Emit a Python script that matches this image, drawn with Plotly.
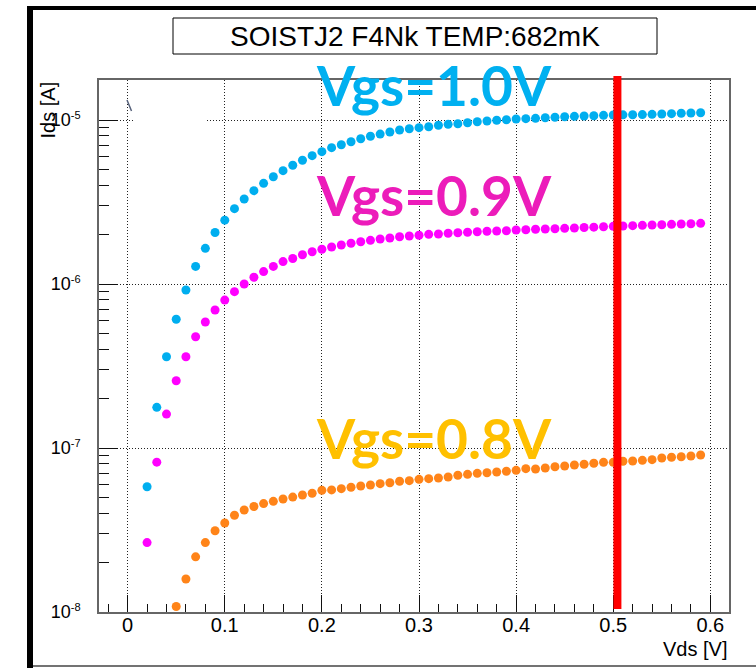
import plotly.graph_objects as go

# ---------------- data ----------------
vds_a = [0.02, 0.03, 0.04, 0.05, 0.06, 0.07, 0.08, 0.09, 0.10, 0.11, 0.12, 0.13,
         0.14, 0.15, 0.16, 0.17, 0.18, 0.19, 0.20, 0.21, 0.22, 0.23, 0.24, 0.25,
         0.26, 0.27, 0.28, 0.29, 0.30, 0.31, 0.32, 0.33, 0.34, 0.35, 0.36, 0.37,
         0.38, 0.39, 0.40, 0.41, 0.42, 0.43, 0.44, 0.45, 0.46, 0.47, 0.48, 0.49,
         0.50, 0.51, 0.52, 0.53, 0.54, 0.55, 0.56, 0.57, 0.58, 0.59]

ids_vgs10 = [5.8e-8, 1.77e-7, 3.6e-7, 6.1e-7, 9.2e-7, 1.28e-6, 1.65e-6, 2.06e-6,
             2.45e-6, 2.88e-6, 3.30e-6, 3.71e-6, 4.11e-6, 4.51e-6, 4.91e-6, 5.30e-6,
             5.68e-6, 6.06e-6, 6.41e-6, 6.78e-6, 7.07e-6, 7.37e-6, 7.69e-6, 7.96e-6,
             8.21e-6, 8.45e-6, 8.69e-6, 8.85e-6, 8.98e-6, 9.10e-6, 9.29e-6, 9.41e-6,
             9.49e-6, 9.63e-6, 9.76e-6, 9.86e-6, 9.96e-6, 1.004e-5, 1.014e-5, 1.019e-5,
             1.024e-5, 1.033e-5, 1.039e-5, 1.047e-5, 1.053e-5, 1.058e-5, 1.062e-5,
             1.068e-5, 1.073e-5, 1.075e-5, 1.076e-5, 1.079e-5, 1.083e-5, 1.088e-5,
             1.093e-5, 1.099e-5, 1.103e-5, 1.108e-5]

ids_vgs09 = [2.65e-8, 8.2e-8, 1.61e-7, 2.57e-7, 3.6e-7, 4.77e-7, 5.87e-7, 6.94e-7,
             7.98e-7, 8.98e-7, 1.0e-6, 1.1e-6, 1.19e-6, 1.28e-6, 1.37e-6, 1.43e-6,
             1.509e-6, 1.574e-6, 1.628e-6, 1.681e-6, 1.729e-6, 1.771e-6, 1.811e-6,
             1.847e-6, 1.881e-6, 1.908e-6, 1.943e-6, 1.962e-6, 1.982e-6, 2.009e-6,
             2.018e-6, 2.038e-6, 2.055e-6, 2.067e-6, 2.084e-6, 2.096e-6, 2.105e-6,
             2.113e-6, 2.134e-6, 2.143e-6, 2.156e-6, 2.165e-6, 2.174e-6, 2.186e-6,
             2.196e-6, 2.210e-6, 2.222e-6, 2.236e-6, 2.248e-6, 2.258e-6, 2.268e-6,
             2.280e-6, 2.290e-6, 2.299e-6, 2.312e-6, 2.322e-6, 2.332e-6, 2.345e-6]

vds_b = [0.05, 0.06, 0.07, 0.08, 0.09, 0.10, 0.11, 0.12, 0.13, 0.14, 0.15, 0.16,
         0.17, 0.18, 0.19, 0.20, 0.21, 0.22, 0.23, 0.24, 0.25, 0.26, 0.27, 0.28,
         0.29, 0.30, 0.31, 0.32, 0.33, 0.34, 0.35, 0.36, 0.37, 0.38, 0.39, 0.40,
         0.41, 0.42, 0.43, 0.44, 0.45, 0.46, 0.47, 0.48, 0.49, 0.50, 0.51, 0.52,
         0.53, 0.54, 0.55, 0.56, 0.57, 0.58, 0.59]

ids_vgs08 = [1.08e-8, 1.59e-8, 2.17e-8, 2.65e-8, 3.13e-8, 3.49e-8, 3.89e-8, 4.19e-8,
             4.40e-8, 4.58e-8, 4.73e-8, 4.89e-8, 5.02e-8, 5.17e-8, 5.30e-8, 5.52e-8,
             5.55e-8, 5.65e-8, 5.76e-8, 5.87e-8, 5.95e-8, 6.06e-8, 6.14e-8, 6.27e-8,
             6.32e-8, 6.44e-8, 6.50e-8, 6.56e-8, 6.66e-8, 6.82e-8, 6.91e-8, 7.01e-8,
             7.07e-8, 7.14e-8, 7.21e-8, 7.31e-8, 7.48e-8, 7.45e-8, 7.55e-8, 7.69e-8,
             7.77e-8, 7.88e-8, 7.96e-8, 8.07e-8, 8.18e-8, 8.18e-8, 8.30e-8, 8.33e-8,
             8.41e-8, 8.49e-8, 8.69e-8, 8.78e-8, 8.85e-8, 8.94e-8, 9.07e-8]

y_major = [1e-8, 1e-7, 1e-6, 1e-5]
y_major_text = ["10<sup><span style='font-size:11px'>-8</span></sup>",
                "10<sup><span style='font-size:11px'>-7</span></sup>",
                "10<sup><span style='font-size:11px'>-6</span></sup>",
                "10<sup><span style='font-size:11px'>-5</span></sup>"]
y_minor = [m * d for d in (1e-8, 1e-7, 1e-6) for m in range(2, 10)]
x_major = [0, 0.1, 0.2, 0.3, 0.4, 0.5, 0.6]
x_major_text = ["0", "0.1", "0.2", "0.3", "0.4", "0.5", "0.6"]

title_text = "SOISTJ2 F4Nk TEMP:682mK"
labels = ["Vgs=1.0V", "Vgs=0.9V", "Vgs=0.8V"]
vline_vds = 0.5043

# ---------------- layout geometry ----------------
W, H = 756, 668
L, T, R, B = 99, 80, 27, 56
PW, PH = W - L - R, H - T - B


def px(x):
    return (x - L) / PW


def py(y):
    return (T + PH - y) / PH


BLUE = "#00AEEF"
MAG = "#FF00FF"
ORA = "#FF8419"
FONT = "Liberation Sans, Arial, sans-serif"

fig = go.Figure()
for xs, ys, c in [(vds_a, ids_vgs10, BLUE), (vds_a, ids_vgs09, MAG), (vds_b, ids_vgs08, ORA)]:
    fig.add_trace(go.Scatter(x=xs, y=ys, mode="markers",
                             marker=dict(size=9, color=c, line=dict(width=0)),
                             showlegend=False, hoverinfo="skip"))

axis_common = dict(showline=True, mirror=True, linecolor="#666666", linewidth=1.5,
                   ticks="inside", tickcolor="#111111", tickwidth=1,
                   showgrid=True, gridcolor="#222222", gridwidth=1, griddash="1px,2px",
                   zeroline=False)

fig.update_xaxes(range=[-0.0295, 0.6192], tickvals=x_major, ticktext=x_major_text,
                 ticklen=17, ticklabelstandoff=-6,
                 tickfont=dict(family=FONT, size=20, color="black"),
                 minor=dict(dtick=0.02, tick0=0, ticks="inside", ticklen=8,
                            tickcolor="#111111", showgrid=False),
                 **axis_common)
fig.update_yaxes(type="log", range=[-8, -4.756], tickvals=y_major, ticktext=y_major_text,
                 ticklen=19, ticklabelstandoff=13,
                 tickfont=dict(family=FONT, size=18, color="black"),
                 minor=dict(tickvals=y_minor, ticks="inside", ticklen=10,
                            tickcolor="#111111", showgrid=False),
                 **axis_common)

shapes = [
    # outer slide frame
    dict(type="rect", xref="paper", yref="paper", x0=px(27), x1=px(33), y0=py(668), y1=py(6),
         fillcolor="black", line=dict(width=0), layer="above"),
    dict(type="rect", xref="paper", yref="paper", x0=px(27), x1=px(756), y0=py(10), y1=py(6),
         fillcolor="black", line=dict(width=0), layer="above"),
    dict(type="line", xref="paper", yref="paper", x0=px(33), x1=px(756), y0=py(666), y1=py(666),
         line=dict(color="#444444", width=1.5), layer="above"),
    # title box
    dict(type="rect", xref="paper", yref="paper", x0=px(173), x1=px(657), y0=py(54), y1=py(18),
         fillcolor="white", line=dict(color="black", width=1), layer="above"),
    # gap in the 1e-5 grid line
    dict(type="rect", xref="paper", yref="paper", x0=px(133), x1=px(207), y0=py(123), y1=py(117),
         fillcolor="white", line=dict(width=0), layer="above"),
    # small stray mark
    dict(type="line", xref="paper", yref="paper", x0=px(127), x1=px(131.5), y0=py(100), y1=py(111),
         line=dict(color="#55607a", width=1.5), layer="above"),
    # red vertical marker
    dict(type="line", xref="x", yref="paper", x0=vline_vds, x1=vline_vds, y0=py(609), y1=py(76),
         line=dict(color="#FF0000", width=8), layer="above"),
]

annotations = [
    dict(text=title_text, xref="paper", yref="paper", x=px(415), y=py(36), xanchor="center",
         yanchor="middle", showarrow=False, font=dict(family=FONT, size=28, color="black")),
    dict(text="Vds [V]", xref="paper", yref="paper", x=px(729), y=py(649), xanchor="right",
         yanchor="middle", showarrow=False, font=dict(family=FONT, size=20, color="black")),
    dict(text="Ids [A]", xref="paper", yref="paper", x=px(47), y=py(80), xanchor="center",
         yanchor="top", textangle=-90, showarrow=False,
         font=dict(family=FONT, size=20, color="black")),
]
for txt, ycen, col in zip(labels, [85, 195, 438], ["#00B0F0", "#EC1CBA", "#FFC000"]):
    annotations.append(dict(text="<b>" + txt + "</b>", xref="paper", yref="paper",
                            x=px(433.5), y=py(ycen), xanchor="center", yanchor="middle",
                            showarrow=False,
                            font=dict(family="Lato, sans-serif", size=55, color=col)))

fig.update_layout(width=W, height=H, margin=dict(l=L, r=R, t=T, b=B, pad=0),
                  paper_bgcolor="white", plot_bgcolor="white",
                  shapes=shapes, annotations=annotations, showlegend=False)

fig.write_html("out.html")
